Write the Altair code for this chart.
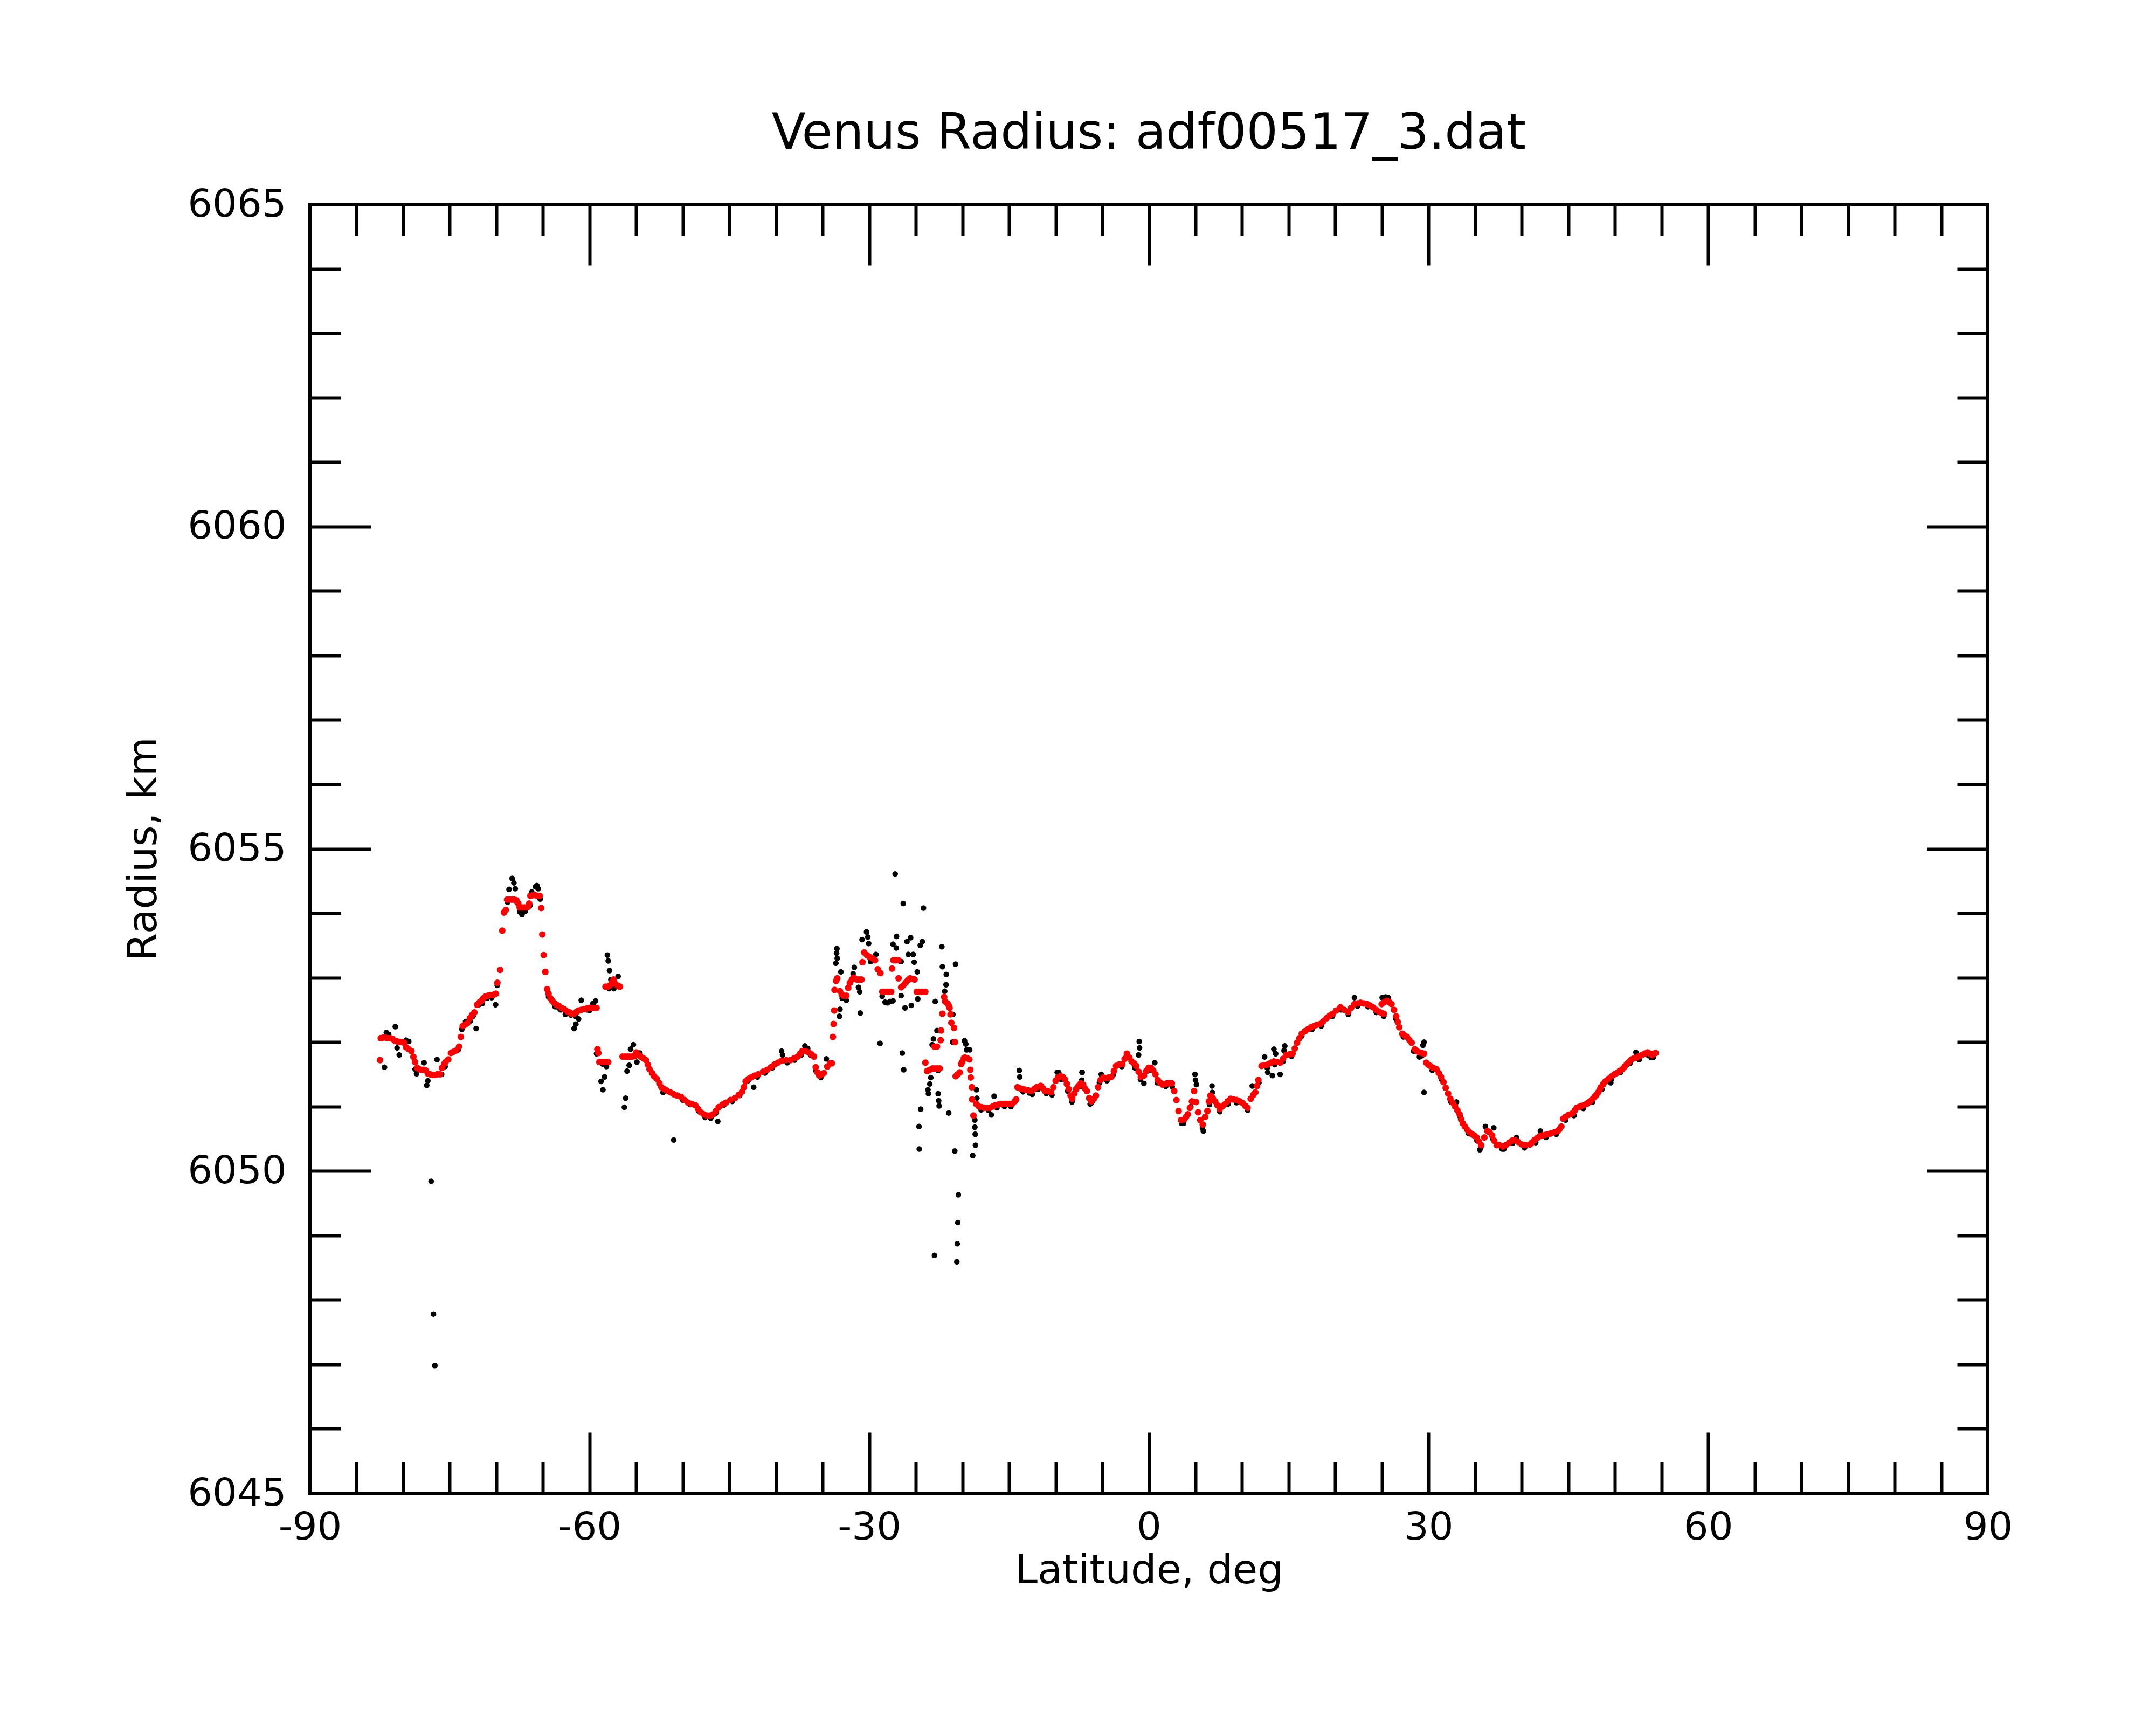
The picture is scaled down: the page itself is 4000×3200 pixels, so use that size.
import altair as alt
import pandas as pd

# ---------------- data ----------------
# smoothed (red) series, southern part: (latitude deg, radius km)
smooth_south = [
    (-82.48, 6051.72), (-82.4, 6052.06), (-82.15, 6052.07), (-81.9, 6052.07), (-81.65, 6052.06),
    (-81.4, 6052.06), (-81.15, 6052.05), (-80.9, 6052.02), (-80.65, 6052.01), (-80.4, 6052.0),
    (-80.15, 6052.0), (-79.9, 6051.99), (-79.69, 6051.92), (-79.4, 6051.89), (-79.11, 6051.86),
    (-78.9, 6051.77), (-78.72, 6051.69), (-78.5, 6051.6), (-78.3, 6051.58), (-78.05, 6051.57),
    (-77.8, 6051.57), (-77.57, 6051.56), (-77.35, 6051.51), (-77.1, 6051.5), (-76.85, 6051.49),
    (-76.6, 6051.49), (-76.35, 6051.5), (-76.05, 6051.5), (-75.83, 6051.6), (-75.6, 6051.66),
    (-75.45, 6051.69), (-75.16, 6051.73), (-74.87, 6051.83), (-74.6, 6051.85), (-74.29, 6051.87),
    (-74.0, 6051.93), (-73.81, 6052.08), (-73.61, 6052.25), (-73.35, 6052.27), (-73.13, 6052.29),
    (-72.84, 6052.37), (-72.6, 6052.42), (-72.36, 6052.46), (-72.07, 6052.58), (-71.8, 6052.62),
    (-71.59, 6052.64), (-71.4, 6052.68), (-71.15, 6052.71), (-70.9, 6052.72), (-70.65, 6052.73),
    (-70.43, 6052.73), (-70.2, 6052.74), (-70.05, 6052.75), (-69.89, 6052.92), (-69.6, 6053.12),
    (-69.37, 6053.73), (-69.18, 6054.01), (-68.99, 6054.05), (-68.85, 6054.21), (-68.6, 6054.21),
    (-68.35, 6054.21), (-68.1, 6054.21), (-67.85, 6054.2), (-67.65, 6054.15), (-67.5, 6054.09),
    (-67.25, 6054.09), (-67.0, 6054.09), (-66.75, 6054.09), (-66.58, 6054.1), (-66.48, 6054.15),
    (-66.35, 6054.27), (-66.1, 6054.28), (-65.85, 6054.28), (-65.6, 6054.27), (-65.35, 6054.27),
    (-65.19, 6054.08), (-65.07, 6053.67), (-64.92, 6053.35), (-64.75, 6053.09), (-64.55, 6052.82),
    (-64.4, 6052.75), (-64.2, 6052.68), (-64.0, 6052.64), (-63.8, 6052.61), (-63.55, 6052.58),
    (-63.3, 6052.56), (-63.0, 6052.53), (-62.72, 6052.51), (-62.45, 6052.48), (-62.14, 6052.46),
    (-61.9, 6052.44), (-61.66, 6052.44), (-61.4, 6052.47), (-61.18, 6052.49), (-60.9, 6052.5),
    (-60.6, 6052.51), (-60.3, 6052.52), (-60.02, 6052.53), (-59.75, 6052.53), (-59.5, 6052.53),
    (-59.25, 6052.53), (-59.16, 6051.89), (-59.06, 6051.83), (-58.95, 6051.69), (-58.7, 6051.69),
    (-58.45, 6051.69), (-58.2, 6051.69), (-58.0, 6051.69), (-58.29, 6052.86), (-58.05, 6052.86),
    (-57.8, 6052.88), (-57.6, 6052.93), (-57.42, 6052.97), (-57.2, 6052.9), (-56.95, 6052.87),
    (-56.75, 6052.86), (-56.46, 6051.775), (-56.2, 6051.775), (-55.95, 6051.775), (-55.7, 6051.775),
    (-55.45, 6051.775), (-55.21, 6051.78), (-55.0, 6051.84), (-54.75, 6051.8), (-54.53, 6051.775),
    (-54.25, 6051.75), (-53.96, 6051.72), (-53.75, 6051.65), (-53.57, 6051.58), (-53.3, 6051.52),
    (-53.09, 6051.47), (-52.8, 6051.43), (-52.51, 6051.36), (-52.3, 6051.3), (-52.0, 6051.27),
    (-51.74, 6051.25), (-51.35, 6051.22), (-50.97, 6051.19), (-50.6, 6051.17), (-50.2, 6051.15),
    (-49.8, 6051.1), (-49.43, 6051.06), (-49.05, 6051.04), (-48.66, 6051.02), (-48.35, 6050.96),
    (-48.08, 6050.91), (-47.75, 6050.88), (-47.4, 6050.86), (-47.05, 6050.86), (-46.73, 6050.88),
    (-46.45, 6050.93), (-46.15, 6050.99), (-45.75, 6051.03), (-45.38, 6051.06), (-44.9, 6051.1),
    (-44.41, 6051.13), (-44.0, 6051.18), (-43.64, 6051.23), (-43.45, 6051.3), (-43.26, 6051.39),
    (-42.95, 6051.43), (-42.68, 6051.45), (-42.3, 6051.48), (-41.91, 6051.5), (-41.4, 6051.54),
    (-40.94, 6051.57), (-40.55, 6051.61), (-40.17, 6051.65), (-39.8, 6051.68), (-39.4, 6051.71),
    (-38.9, 6051.72), (-38.44, 6051.72), (-38.05, 6051.75), (-37.67, 6051.775), (-37.4, 6051.82),
    (-37.18, 6051.86), (-36.85, 6051.86), (-36.51, 6051.84), (-36.2, 6051.81), (-35.93, 6051.775),
    (-35.74, 6051.61), (-35.55, 6051.53), (-35.36, 6051.48), (-35.1, 6051.5), (-34.87, 6051.52),
    (-34.5, 6051.62), (-34.2, 6051.67), (-34.0, 6051.67),
]
# smoothed (red) series, the disturbed stretch near -34 .. -18 deg
smooth_mid = [
    (-33.9, 6052.08), (-33.82, 6052.28), (-33.75, 6052.49), (-33.72, 6052.81), (-33.55, 6052.95),
    (-33.43, 6052.99), (-33.14, 6052.79), (-32.95, 6052.74), (-32.75, 6052.72), (-32.46, 6052.72),
    (-32.25, 6052.84), (-32.08, 6052.92), (-31.85, 6052.97), (-31.69, 6053.0), (-31.5, 6052.98),
    (-31.31, 6052.97), (-31.05, 6052.97), (-30.83, 6052.97), (-30.73, 6053.24), (-30.54, 6053.39),
    (-30.25, 6053.35), (-29.96, 6053.32), (-29.65, 6053.3), (-29.38, 6053.27), (-29.09, 6053.13),
    (-28.8, 6053.07), (-28.6, 6052.78), (-28.35, 6052.78), (-28.1, 6052.78), (-27.85, 6052.78),
    (-27.64, 6052.78), (-27.55, 6053.14), (-27.4, 6053.27), (-27.15, 6053.27), (-26.88, 6053.27),
    (-26.85, 6052.99), (-26.58, 6052.85), (-26.35, 6052.88), (-26.1, 6052.92), (-25.85, 6052.96),
    (-25.62, 6052.99), (-25.38, 6052.98), (-25.14, 6052.97), (-24.9, 6052.78), (-24.65, 6052.78),
    (-24.4, 6052.78), (-24.15, 6052.78), (-23.98, 6052.78), (-23.98, 6051.68), (-23.79, 6051.55),
    (-23.5, 6051.57), (-23.21, 6051.59), (-22.95, 6051.59), (-22.7, 6051.59), (-22.44, 6051.59),
    (-23.02, 6051.93), (-22.73, 6051.93), (-22.34, 6052.03), (-22.29, 6052.18), (-22.15, 6052.44),
    (-21.96, 6052.7), (-21.86, 6052.63), (-21.6, 6052.6), (-21.48, 6052.57), (-21.38, 6052.53),
    (-21.28, 6052.43), (-21.19, 6052.3), (-20.9, 6052.22), (-20.8, 6052.0), (-20.73, 6051.47),
    (-20.5, 6051.5), (-20.29, 6051.53), (-20.14, 6051.66), (-20.03, 6051.69), (-19.85, 6051.75),
    (-19.74, 6051.76), (-19.5, 6051.75), (-19.26, 6051.73), (-19.16, 6051.57), (-19.11, 6051.45),
    (-19.0, 6051.3), (-18.96, 6051.11), (-18.82, 6050.86),
]
# smoothed (red) series, northern part
smooth_north = [
    (-18.52, 6051.04), (-18.23, 6051.0), (-17.95, 6050.99), (-17.64, 6050.98), (-17.35, 6050.98),
    (-17.05, 6050.98), (-16.75, 6051.0), (-16.46, 6051.02), (-16.15, 6051.03), (-15.87, 6051.04),
    (-15.55, 6051.04), (-15.25, 6051.04), (-14.95, 6051.04), (-14.69, 6051.04), (-14.4, 6051.08),
    (-14.24, 6051.11), (-14.1, 6051.3), (-13.8, 6051.28), (-13.5, 6051.27), (-13.21, 6051.26),
    (-12.9, 6051.25), (-12.62, 6051.24), (-12.3, 6051.27), (-12.03, 6051.3), (-11.8, 6051.31),
    (-11.59, 6051.32), (-11.35, 6051.28), (-11.15, 6051.24), (-10.85, 6051.24), (-10.49, 6051.22),
    (-10.25, 6051.3), (-10.0, 6051.4), (-9.75, 6051.45), (-9.5, 6051.47), (-9.25, 6051.46),
    (-9.0, 6051.42), (-8.8, 6051.35), (-8.6, 6051.27), (-8.4, 6051.17), (-8.23, 6051.12),
    (-8.0, 6051.2), (-7.8, 6051.27), (-7.55, 6051.32), (-7.3, 6051.36), (-7.05, 6051.34),
    (-6.85, 6051.28), (-6.65, 6051.24), (-6.4, 6051.13), (-6.17, 6051.08), (-5.9, 6051.12),
    (-5.68, 6051.17), (-5.45, 6051.3), (-5.18, 6051.41), (-4.9, 6051.45), (-4.6, 6051.44),
    (-4.3, 6051.45), (-4.02, 6051.46), (-3.75, 6051.55), (-3.52, 6051.63), (-3.2, 6051.65),
    (-2.85, 6051.66), (-2.6, 6051.74), (-2.36, 6051.82), (-2.1, 6051.76), (-1.86, 6051.7),
    (-1.6, 6051.67), (-1.36, 6051.63), (-1.1, 6051.54), (-0.86, 6051.46), (-0.53, 6051.48),
    (-0.28, 6051.55), (-0.03, 6051.6), (0.22, 6051.6), (0.47, 6051.56), (0.7, 6051.5),
    (0.96, 6051.41), (1.2, 6051.37), (1.46, 6051.34), (1.7, 6051.35), (1.96, 6051.36),
    (2.2, 6051.36), (2.46, 6051.36), (2.72, 6051.24), (2.96, 6051.1), (3.19, 6050.93),
    (3.45, 6050.79), (3.79, 6050.8), (4.0, 6050.84), (4.18, 6050.88), (4.4, 6050.98),
    (4.62, 6051.08), (4.85, 6051.24), (5.05, 6051.07), (5.28, 6050.91), (5.51, 6050.79),
    (5.78, 6050.72), (6.04, 6050.84), (6.28, 6050.93), (6.44, 6051.08), (6.61, 6051.17),
    (6.85, 6051.13), (7.11, 6051.08), (7.35, 6051.02), (7.6, 6050.96), (7.85, 6051.0),
    (8.1, 6051.03), (8.45, 6051.08), (8.77, 6051.12), (9.1, 6051.11), (9.43, 6051.1),
    (9.75, 6051.08), (10.09, 6051.05), (10.35, 6051.01), (10.59, 6050.98), (10.92, 6051.12),
    (11.2, 6051.18), (11.42, 6051.22), (11.6, 6051.32), (11.75, 6051.41), (12.09, 6051.63),
    (12.4, 6051.64), (12.75, 6051.65), (13.1, 6051.68), (13.41, 6051.7), (13.75, 6051.69),
    (14.08, 6051.68), (14.4, 6051.74), (14.74, 6051.8), (15.1, 6051.81), (15.41, 6051.82),
    (15.65, 6051.9), (15.9, 6051.99), (16.15, 6052.06), (16.4, 6052.13), (16.75, 6052.17),
    (17.07, 6052.2), (17.4, 6052.23), (17.73, 6052.25), (18.05, 6052.27), (18.39, 6052.28),
    (18.7, 6052.32), (19.06, 6052.37), (19.4, 6052.41), (19.72, 6052.44), (20.1, 6052.49),
    (20.55, 6052.54), (20.95, 6052.5), (21.38, 6052.47), (21.7, 6052.53), (22.05, 6052.59),
    (22.4, 6052.6), (22.71, 6052.61), (23.05, 6052.6), (23.37, 6052.59), (23.7, 6052.57),
    (24.04, 6052.54), (24.4, 6052.5), (24.7, 6052.47), (25.0, 6052.45), (25.2, 6052.44),
    (24.97, 6052.59), (25.25, 6052.62), (25.53, 6052.64), (25.8, 6052.62), (26.03, 6052.59),
    (26.3, 6052.5), (26.53, 6052.4), (26.7, 6052.31), (26.86, 6052.23), (27.19, 6052.13),
    (27.45, 6052.1), (27.69, 6052.08), (27.95, 6052.03), (28.19, 6051.99), (28.52, 6051.89),
    (28.75, 6051.86), (29.02, 6051.84), (29.25, 6051.83), (29.52, 6051.82), (29.75, 6051.68),
    (29.95, 6051.65), (30.18, 6051.63), (30.5, 6051.6), (30.84, 6051.58), (31.1, 6051.52),
    (31.34, 6051.46), (31.6, 6051.38), (31.84, 6051.29), (32.1, 6051.2), (32.34, 6051.12),
    (32.6, 6051.06), (32.84, 6051.0), (33.1, 6050.94), (33.33, 6050.88), (33.5, 6050.8),
    (33.67, 6050.74), (33.9, 6050.69), (34.16, 6050.64), (34.4, 6050.6), (34.66, 6050.57),
    (34.9, 6050.55), (35.16, 6050.52), (35.4, 6050.46), (35.66, 6050.4), (35.99, 6050.52),
    (36.32, 6050.62), (36.55, 6050.6), (36.82, 6050.55), (37.05, 6050.47), (37.32, 6050.4),
    (37.6, 6050.4), (37.98, 6050.38), (38.3, 6050.4), (38.66, 6050.44), (38.95, 6050.47),
    (39.24, 6050.48), (39.6, 6050.45), (40.0, 6050.41), (40.4, 6050.4), (40.87, 6050.41),
    (41.1, 6050.44), (41.36, 6050.48), (41.65, 6050.51), (41.93, 6050.54), (42.2, 6050.55),
    (42.51, 6050.56), (42.8, 6050.57), (43.09, 6050.58), (43.5, 6050.6), (43.86, 6050.62),
    (44.05, 6050.65), (44.25, 6050.69), (44.44, 6050.81), (44.7, 6050.84), (45.02, 6050.87),
    (45.25, 6050.88), (45.5, 6050.9), (45.7, 6050.94), (45.89, 6050.98), (46.1, 6050.99),
    (46.37, 6051.01), (46.65, 6051.02), (46.95, 6051.04), (47.15, 6051.06), (47.33, 6051.08),
    (47.55, 6051.11), (47.81, 6051.15), (48.0, 6051.18), (48.2, 6051.22), (48.35, 6051.26),
    (48.49, 6051.3), (48.75, 6051.35), (48.97, 6051.39), (49.3, 6051.43), (49.65, 6051.47),
    (49.95, 6051.5), (50.22, 6051.52), (50.5, 6051.55), (50.8, 6051.58), (51.05, 6051.62),
    (51.28, 6051.66), (51.5, 6051.69), (51.77, 6051.73), (52.05, 6051.75), (52.34, 6051.76),
    (52.6, 6051.78), (52.92, 6051.8), (53.2, 6051.82), (53.5, 6051.84), (53.75, 6051.82),
    (53.98, 6051.8), (54.2, 6051.82), (54.37, 6051.83),
]

# raw (black) measurements, southern part
raw_south = [
    (-82.0, 6051.61), (-81.8, 6052.15), (-81.55, 6052.12), (-80.84, 6052.24), (-80.65, 6051.91),
    (-80.42, 6051.8), (-79.4, 6052.01), (-79.7, 6052.03), (-78.72, 6051.58), (-78.56, 6051.51),
    (-77.76, 6051.68), (-77.47, 6051.33), (-77.35, 6051.4), (-76.37, 6051.73), (-75.87, 6051.5),
    (-75.5, 6051.62), (-77.0, 6049.84), (-76.75, 6047.78), (-76.6, 6046.98), (-73.3, 6052.32),
    (-72.17, 6052.21), (-72.8, 6052.33), (-71.5, 6052.6), (-70.08, 6052.58), (-70.5, 6052.69),
    (-68.31, 6054.54), (-68.12, 6054.47), (-67.97, 6054.38), (-68.64, 6054.37), (-67.25, 6053.98),
    (-67.5, 6054.02), (-66.9, 6054.03), (-65.81, 6054.41), (-65.52, 6054.38), (-66.2, 6054.33),
    (-65.65, 6054.43), (-64.4, 6052.7), (-63.7, 6052.55), (-63.1, 6052.5), (-62.6, 6052.43),
    (-62.0, 6052.42), (-60.89, 6052.65), (-61.66, 6052.21), (-61.47, 6052.28), (-61.18, 6052.36),
    (-59.64, 6052.6), (-59.35, 6052.64), (-60.3, 6052.5), (-59.25, 6051.82), (-58.19, 6051.62),
    (-58.39, 6051.46), (-58.77, 6051.39), (-58.57, 6051.26), (-58.09, 6053.35), (-58.0, 6053.26),
    (-57.86, 6053.11), (-57.71, 6052.97), (-56.94, 6053.02), (-57.4, 6052.83), (-55.3, 6051.96),
    (-55.6, 6051.89), (-55.75, 6051.64), (-55.98, 6051.55), (-56.13, 6051.13), (-56.27, 6050.99),
    (-54.92, 6051.69), (-54.6, 6051.83), (-52.12, 6051.22), (-53.2, 6051.5), (-50.97, 6050.48),
    (-46.25, 6050.77), (-42.39, 6051.3), (-39.4, 6051.86), (-39.3, 6051.8), (-36.9, 6051.94),
    (-36.6, 6051.9), (-35.7, 6051.55), (-34.6, 6051.74), (-50.0, 6051.1), (-49.2, 6051.03),
    (-48.3, 6050.93), (-47.6, 6050.83), (-47.0, 6050.82), (-46.4, 6050.9), (-45.6, 6051.02),
    (-44.7, 6051.08), (-43.9, 6051.17), (-43.0, 6051.4), (-42.0, 6051.46), (-41.2, 6051.52),
    (-40.4, 6051.6), (-38.8, 6051.68), (-38.0, 6051.72), (-37.3, 6051.8), (-36.3, 6051.8),
    (-35.2, 6051.45), (-74.1, 6051.88), (-73.7, 6052.2), (-72.5, 6052.4), (-71.9, 6052.58),
    (-71.0, 6052.68), (-69.9, 6052.88), (-68.8, 6054.17), (-67.8, 6054.17), (-67.1, 6054.05),
    (-66.4, 6054.12), (-65.3, 6054.22), (-63.3, 6052.53), (-61.5, 6052.4), (-60.0, 6052.49),
    (-58.6, 6051.66), (-57.9, 6052.83),
]
# raw (black) measurements, disturbed stretch
raw_mid = [
    (-26.35, 6054.15), (-24.18, 6054.08), (-24.48, 6050.96), (-24.66, 6050.69), (-24.63, 6050.34),
    (-27.22, 6054.61), (-30.29, 6053.71), (-30.77, 6053.59), (-30.15, 6053.63), (-30.06, 6053.53),
    (-33.47, 6053.45), (-33.5, 6053.38), (-33.43, 6053.3), (-33.58, 6053.225), (-33.04, 6053.09),
    (-31.6, 6053.16), (-31.73, 6053.06), (-29.28, 6053.36), (-29.86, 6053.25), (-27.07, 6053.64),
    (-27.45, 6053.52), (-27.1, 6053.46), (-25.56, 6053.62), (-25.95, 6053.56), (-24.31, 6053.56),
    (-24.52, 6053.5), (-25.81, 6053.36), (-25.29, 6053.36), (-26.58, 6053.25), (-25.18, 6053.24),
    (-24.85, 6053.09), (-22.21, 6053.48), (-22.15, 6053.17), (-20.74, 6053.21), (-21.73, 6053.05),
    (-21.76, 6052.89), (-21.9, 6052.79), (-22.92, 6052.63), (-31.15, 6052.85), (-31.02, 6052.78),
    (-32.46, 6052.65), (-33.14, 6052.51), (-33.2, 6052.4), (-30.96, 6052.45), (-28.61, 6052.71),
    (-28.03, 6052.61), (-27.45, 6052.64), (-26.58, 6052.72), (-26.16, 6052.53), (-25.49, 6052.57),
    (-24.79, 6052.67), (-28.3, 6052.62), (-27.75, 6052.63), (-21.03, 6052.43), (-22.73, 6052.18),
    (-23.11, 6052.05), (-23.25, 6051.96), (-21.05, 6052.0), (-19.78, 6052.02), (-19.64, 6051.97),
    (-19.55, 6051.88), (-19.22, 6051.88), (-28.84, 6051.98), (-26.45, 6051.83), (-26.3, 6051.57),
    (-22.6, 6051.56), (-23.4, 6051.45), (-23.5, 6051.35), (-23.7, 6051.26), (-23.65, 6051.2),
    (-22.6, 6051.2), (-22.55, 6051.09), (-22.5, 6051.01), (-21.47, 6050.9), (-20.82, 6050.31),
    (-18.5, 6051.26), (-18.45, 6051.13), (-18.67, 6050.79), (-18.67, 6050.68), (-18.63, 6050.57),
    (-18.6, 6050.4), (-18.9, 6050.24), (-20.44, 6049.63), (-20.5, 6049.2), (-20.55, 6048.87),
    (-20.6, 6048.59), (-23.0, 6048.69), (-32.9, 6052.68),
]
# raw (black) measurements, northern part
raw_north = [
    (-16.9, 6050.87), (-16.6, 6051.16), (-13.9, 6051.56), (-13.85, 6051.46), (-12.5, 6051.19),
    (-9.67, 6051.53), (-7.16, 6051.53), (-8.2, 6051.13), (-6.1, 6051.07), (-18.0, 6050.95),
    (-17.2, 6050.94), (-16.3, 6050.98), (-15.5, 6051.0), (-14.8, 6051.0), (-13.5, 6051.23),
    (-12.8, 6051.21), (-11.9, 6051.27), (-11.0, 6051.2), (-10.4, 6051.18), (-9.4, 6051.42),
    (-8.7, 6051.24), (-8.25, 6051.07), (-7.4, 6051.31), (-6.3, 6051.04), (-5.3, 6051.37),
    (-4.5, 6051.4), (-3.8, 6051.5), (-2.9, 6051.62), (-2.3, 6051.78), (-1.5, 6051.6),
    (-0.9, 6051.42), (0.0, 6051.56), (0.9, 6051.37), (1.8, 6051.31), (2.5, 6051.31),
    (3.5, 6050.74), (3.72, 6050.74), (4.5, 6051.0), (5.84, 6050.62), (5.75, 6050.67),
    (6.5, 6051.03), (7.6, 6050.92), (8.5, 6051.04), (9.4, 6051.06), (10.6, 6050.94),
    (11.8, 6051.37), (12.7, 6051.6), (13.5, 6051.65), (14.4, 6051.7), (15.3, 6051.78),
    (16.4, 6052.09), (17.5, 6052.2), (18.5, 6052.25), (19.7, 6052.4), (20.6, 6052.5),
    (21.4, 6052.43), (22.4, 6052.56), (23.5, 6052.55), (24.4, 6052.46), (25.2, 6052.4),
    (26.5, 6052.36), (27.3, 6052.08), (28.4, 6051.86), (29.3, 6051.79), (30.4, 6051.56),
    (31.4, 6051.42), (32.4, 6051.07), (33.4, 6050.84), (34.3, 6050.58), (35.2, 6050.47),
    (35.6, 6050.36), (36.9, 6050.5), (37.9, 6050.34), (39.0, 6050.43), (40.3, 6050.36),
    (41.5, 6050.44), (42.6, 6050.52), (43.7, 6050.57), (44.7, 6050.79), (45.6, 6050.86),
    (46.6, 6050.97), (47.6, 6051.07), (48.6, 6051.27), (49.6, 6051.42), (50.6, 6051.53),
    (51.6, 6051.67), (52.6, 6051.73), (53.6, 6051.79), (54.1, 6051.76), (-1.03, 6052.01),
    (-1.0, 6051.91), (-1.1, 6051.8), (4.95, 6051.5), (5.0, 6051.41), (5.1, 6051.34),
    (6.77, 6051.32), (6.8, 6051.22), (-0.53, 6051.36), (-9.83, 6051.53), (-7.17, 6051.53),
    (-7.2, 6051.41), (-5.11, 6051.5), (0.63, 6051.68), (11.09, 6051.32), (12.42, 6051.77),
    (13.41, 6051.89), (13.6, 6051.82), (14.58, 6051.94), (14.5, 6051.87), (13.25, 6051.48),
    (14.08, 6051.5), (12.75, 6051.53), (22.05, 6052.69), (25.03, 6052.69), (25.4, 6052.7),
    (25.7, 6052.69), (29.52, 6052.0), (29.4, 6051.95), (29.02, 6051.77), (29.52, 6051.22),
    (33.0, 6051.07), (35.5, 6050.33), (36.1, 6050.69), (37.0, 6050.67), (52.25, 6051.84),
    (42.0, 6050.62), (39.43, 6050.52), (49.55, 6051.37), (53.9, 6051.76), (38.08, 6050.34),
]

# axis values
x_label_values = [-90, -60, -30, 0, 30, 60, 90]
x_major_ticks = [-60, -30, 0, 30, 60]
x_minor_ticks = [-85, -80, -75, -70, -65, -55, -50, -45, -40, -35, -25, -20, -15, -10, -5,
                 5, 10, 15, 20, 25, 35, 40, 45, 50, 55, 65, 70, 75, 80, 85]
y_label_values = [6045, 6050, 6055, 6060, 6065]
y_major_ticks = [6050, 6055, 6060]
y_minor_ticks = [6046, 6047, 6048, 6049, 6051, 6052, 6053, 6054, 6056, 6057, 6058, 6059,
                 6061, 6062, 6063, 6064]

# ---------------- chart ----------------
W, H = 3113, 2391
FONT = "DejaVu Sans"

smooth_df = pd.DataFrame(smooth_south + smooth_mid + smooth_north, columns=["lat", "r"])
raw_df = pd.DataFrame(raw_south + raw_mid + raw_north, columns=["lat", "r"])

xs = alt.Scale(domain=[-90, 90], nice=False, zero=False)
ys = alt.Scale(domain=[6045, 6065], nice=False, zero=False)


def tick_axis(orient, values, size, offset):
    return alt.Axis(orient=orient, values=values, offset=offset, ticks=True, tickSize=size,
                    tickWidth=6, tickColor="black", labels=False, domain=False, grid=False,
                    title=None)


label_x_axis = alt.Axis(orient="bottom", values=x_label_values, ticks=False, tickSize=0,
                        domain=False, grid=False, labelPadding=28, labelFont=FONT,
                        labelFontSize=72, labelColor="black", labelAngle=0, labelFlush=False,
                        labelOverlap=False, labelLimit=1000, labelExpr="'' + datum.value",
                        title="Latitude, deg", titleFont=FONT, titleFontSize=75,
                        titleFontWeight="normal", titleColor="black", titlePadding=8)
label_y_axis = alt.Axis(orient="left", values=y_label_values, ticks=False, tickSize=0,
                        domain=False, grid=False, labelPadding=44, labelFont=FONT,
                        labelFontSize=72, labelColor="black", labelFlush=False,
                        labelOverlap=False, labelLimit=1000, labelExpr="'' + datum.value",
                        title="Radius, km", titleFont=FONT, titleFontSize=75,
                        titleFontWeight="normal", titleColor="black", titlePadding=70)

raw_layer = alt.Chart(raw_df).mark_circle(color="black", size=110, opacity=1).encode(
    x=alt.X("lat:Q", scale=xs, axis=label_x_axis),
    y=alt.Y("r:Q", scale=ys, axis=label_y_axis),
)
smooth_layer = alt.Chart(smooth_df).mark_circle(color="#ff0000", size=150, opacity=1).encode(
    x=alt.X("lat:Q", scale=xs, axis=tick_axis("top", x_major_ticks, 113, -H)),
    y=alt.Y("r:Q", scale=ys, axis=tick_axis("right", y_major_ticks, 113, -W)),
)
ticks_a = alt.Chart(smooth_df).mark_circle(opacity=0).encode(
    x=alt.X("lat:Q", scale=xs, axis=tick_axis("bottom", x_major_ticks, 113, -H)),
    y=alt.Y("r:Q", scale=ys, axis=tick_axis("left", y_major_ticks, 113, -W)),
)
ticks_b = alt.Chart(smooth_df).mark_circle(opacity=0).encode(
    x=alt.X("lat:Q", scale=xs, axis=tick_axis("top", x_minor_ticks, 58, -H)),
    y=alt.Y("r:Q", scale=ys, axis=tick_axis("right", y_minor_ticks, 57, -W)),
)
ticks_c = alt.Chart(smooth_df).mark_circle(opacity=0).encode(
    x=alt.X("lat:Q", scale=xs, axis=tick_axis("bottom", x_minor_ticks, 58, -H)),
    y=alt.Y("r:Q", scale=ys, axis=tick_axis("left", y_minor_ticks, 57, -W)),
)

chart = (
    alt.layer(raw_layer, smooth_layer, ticks_a, ticks_b, ticks_c)
    .resolve_axis(x="independent", y="independent")
    .properties(
        width=W,
        height=H,
        title=alt.TitleParams(text="Venus Radius: adf00517_3.dat", font=FONT, fontSize=92,
                              fontWeight="normal", color="black", anchor="middle",
                              frame="group", offset=-25, baseline="alphabetic"),
        autosize=alt.AutoSizeParams(type="none"),
        padding={"left": 567, "top": 371, "right": 304, "bottom": 422},
        background="white",
    )
    .configure_view(stroke="black", strokeWidth=6)
)

chart.save("out.html", embed_options={"renderer": "svg", "actions": False})
